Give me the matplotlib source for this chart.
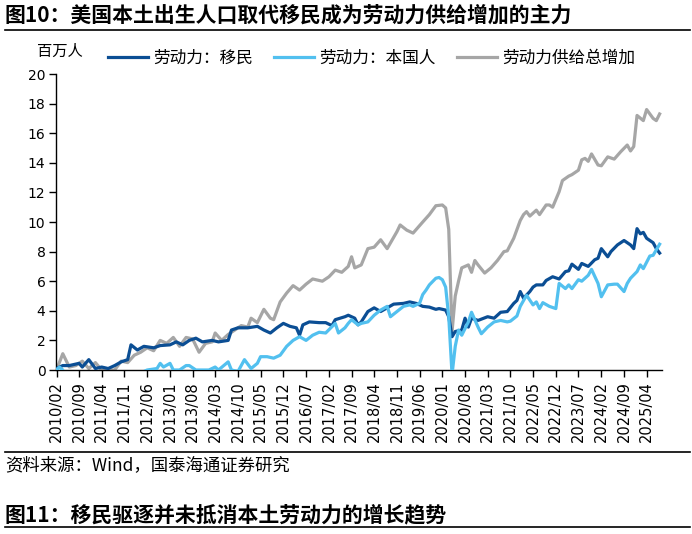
import matplotlib.pyplot as plt
import pandas as pd
from matplotlib.lines import Line2D

plt.rcParams['font.family'] = ['Noto Sans CJK SC', 'DejaVu Sans']

# 劳动力：移民（百万人）
imm_dates = ['2010/02', '2010/04', '2010/06', '2010/09', '2010/10', '2010/12', '2011/02', '2011/04',
             '2011/06', '2011/08', '2011/10', '2011/12', '2012/01', '2012/03', '2012/05', '2012/08',
             '2012/10', '2013/01', '2013/03', '2013/05', '2013/07', '2013/09', '2013/11', '2014/02',
             '2014/04', '2014/07', '2014/08', '2014/10', '2015/01', '2015/04', '2015/06', '2015/08',
             '2015/10', '2015/12', '2016/02', '2016/04', '2016/05', '2016/06', '2016/08', '2016/11',
             '2017/01', '2017/03', '2017/04', '2017/07', '2017/08', '2017/10', '2017/11', '2017/12',
             '2018/02', '2018/04', '2018/06', '2018/08', '2018/10', '2019/01', '2019/03', '2019/05',
             '2019/07', '2019/09', '2019/11', '2019/12', '2020/02', '2020/03', '2020/04', '2020/05',
             '2020/07', '2020/08', '2020/09', '2020/10', '2020/12', '2021/03', '2021/05', '2021/07',
             '2021/09', '2021/11', '2021/12', '2022/01', '2022/02', '2022/04', '2022/05', '2022/06',
             '2022/08', '2022/09', '2022/11', '2023/01', '2023/03', '2023/04', '2023/05', '2023/07',
             '2023/08', '2023/10', '2023/12', '2024/01', '2024/02', '2024/04', '2024/05', '2024/07',
             '2024/09', '2024/11', '2024/12', '2025/01', '2025/02', '2025/03', '2025/04', '2025/06',
             '2025/07', '2025/08']
imm_vals = [0.1, 0.3, 0.3, 0.45, 0.2, 0.7, 0.1, 0.2,
            0.1, 0.3, 0.55, 0.7, 1.7, 1.35, 1.6, 1.5,
            1.65, 1.7, 1.9, 1.7, 2.0, 2.15, 1.9, 2.0,
            1.9, 2.0, 2.7, 2.85, 2.85, 2.95, 2.7, 2.5,
            2.85, 3.15, 2.95, 2.85, 2.35, 3.05, 3.25, 3.2,
            3.2, 3.0, 3.4, 3.6, 3.7, 3.5, 3.05, 3.25,
            3.95, 4.2, 3.95, 4.2, 4.45, 4.5, 4.6, 4.5,
            4.3, 4.25, 4.1, 4.15, 4.05, 3.6, 2.25, 2.6,
            2.7, 3.5, 2.9, 3.5, 3.35, 3.6, 3.5, 3.9,
            3.95, 4.5, 4.7, 5.3, 4.85, 5.3, 5.6, 5.75,
            5.75, 6.05, 6.3, 6.15, 6.65, 6.7, 7.15, 6.8,
            7.2, 7.0, 7.45, 7.55, 8.2, 7.65, 8.0, 8.45,
            8.75, 8.45, 8.2, 9.55, 9.2, 9.3, 8.9, 8.6,
            8.2, 7.9]

# 劳动力：本国人（百万人）
nat_dates = ['2010/02', '2010/03', '2010/04', '2010/05', '2010/08', '2010/10', '2011/02', '2011/06',
             '2011/10', '2012/02', '2012/05', '2012/06', '2012/09', '2012/10', '2012/11', '2013/01',
             '2013/02', '2013/04', '2013/06', '2013/07', '2013/09', '2013/11', '2014/01', '2014/03',
             '2014/04', '2014/07', '2014/08', '2014/10', '2014/12', '2015/02', '2015/04', '2015/05',
             '2015/07', '2015/09', '2015/11', '2016/01', '2016/03', '2016/05', '2016/07', '2016/09',
             '2016/11', '2017/01', '2017/04', '2017/05', '2017/07', '2017/08', '2017/09', '2017/11',
             '2017/12', '2018/02', '2018/04', '2018/06', '2018/08', '2018/09', '2018/11', '2019/01',
             '2019/03', '2019/04', '2019/06', '2019/07', '2019/08', '2019/09', '2019/11', '2019/12',
             '2020/01', '2020/02', '2020/03', '2020/04', '2020/05', '2020/06', '2020/07', '2020/09',
             '2020/10', '2020/12', '2021/01', '2021/03', '2021/05', '2021/07', '2021/09', '2021/10',
             '2021/12', '2022/01', '2022/03', '2022/05', '2022/06', '2022/07', '2022/08', '2022/10',
             '2022/12', '2023/01', '2023/03', '2023/04', '2023/05', '2023/07', '2023/08', '2023/10',
             '2023/11', '2024/01', '2024/02', '2024/04', '2024/06', '2024/07', '2024/09', '2024/10',
             '2024/11', '2025/01', '2025/02', '2025/03', '2025/05', '2025/06', '2025/08']
nat_vals = [0.0, 0.2, 0.0, -0.6, -0.9, -0.5, -1.0, -0.8,
            -0.5, -0.6, -0.1, 0.0, 0.1, 0.45, 0.2, 0.45,
            0.0, 0.0, 0.3, 0.3, 0.0, 0.0, 0.0, 0.2,
            0.0, 0.55, 0.0, -0.1, 0.7, 0.1, 0.45, 0.9,
            0.9, 0.8, 1.0, 1.6, 2.0, 2.25, 2.0, 2.35,
            2.55, 2.5, 3.15, 2.5, 2.85, 3.15, 3.4, 3.05,
            3.15, 3.25, 3.7, 4.05, 4.3, 3.6, 3.95, 4.3,
            4.4, 4.3, 4.5, 5.1, 5.4, 5.75, 6.2, 6.25,
            6.1, 5.6, 3.6, -0.3, 1.6, 2.7, 2.35, 3.25,
            3.9, 2.9, 2.45, 2.9, 3.25, 3.35, 3.25, 3.3,
            3.65, 4.3, 5.05, 4.4, 4.6, 4.15, 4.55, 4.3,
            4.15, 5.85, 5.5, 5.75, 5.5, 6.1, 6.0, 6.4,
            6.8, 5.85, 4.95, 5.75, 5.8, 5.8, 5.3, 5.85,
            6.2, 6.65, 7.1, 6.85, 7.7, 7.75, 8.5]

# 劳动力供给总增加（百万人）
tot_dates = ['2010/02', '2010/04', '2010/06', '2010/08', '2010/10', '2010/12', '2011/02', '2011/04',
             '2011/06', '2011/08', '2011/10', '2011/12', '2012/02', '2012/04', '2012/06', '2012/08',
             '2012/10', '2012/12', '2013/02', '2013/04', '2013/06', '2013/08', '2013/10', '2013/12',
             '2014/02', '2014/03', '2014/05', '2014/07', '2014/09', '2014/11', '2015/01', '2015/02',
             '2015/04', '2015/06', '2015/08', '2015/09', '2015/11', '2016/01', '2016/03', '2016/05',
             '2016/07', '2016/09', '2016/12', '2017/02', '2017/04', '2017/06', '2017/08', '2017/09',
             '2017/10', '2017/12', '2018/02', '2018/04', '2018/06', '2018/08', '2018/11', '2018/12',
             '2019/02', '2019/04', '2019/07', '2019/09', '2019/11', '2020/01', '2020/02', '2020/03',
             '2020/04', '2020/05', '2020/06', '2020/07', '2020/09', '2020/10', '2020/11', '2020/12',
             '2021/02', '2021/04', '2021/06', '2021/08', '2021/09', '2021/11', '2022/01', '2022/02',
             '2022/03', '2022/04', '2022/06', '2022/07', '2022/09', '2022/10', '2022/11', '2023/01',
             '2023/02', '2023/04', '2023/05', '2023/07', '2023/08', '2023/09', '2023/10', '2023/11',
             '2024/01', '2024/02', '2024/04', '2024/06', '2024/08', '2024/10', '2024/11', '2024/12',
             '2025/01', '2025/03', '2025/04', '2025/06', '2025/07', '2025/08']
tot_vals = [0.0, 1.1, 0.2, 0.3, 0.6, 0.1, 0.5, 0.0,
            0.0, 0.0, 0.6, 0.5, 1.0, 1.2, 1.5, 1.3,
            2.0, 1.8, 2.2, 1.6, 2.2, 2.1, 1.2, 1.8,
            1.9, 2.5, 2.0, 2.4, 2.7, 3.0, 2.9, 3.5,
            3.2, 4.1, 3.5, 3.4, 4.6, 5.2, 5.7, 5.4,
            5.8, 6.15, 6.0, 6.3, 6.75, 6.6, 7.0, 7.65,
            6.9, 7.1, 8.2, 8.3, 8.8, 8.2, 9.35, 9.8,
            9.45, 9.25, 10.0, 10.5, 11.1, 11.15, 10.95, 9.5,
            2.6, 5.0, 6.0, 6.9, 7.1, 6.6, 7.4, 7.1,
            6.55, 6.9, 7.4, 8.0, 8.05, 8.9, 10.1, 10.5,
            10.7, 10.4, 10.8, 10.5, 11.15, 11.15, 11.0, 12.05,
            12.8, 13.1, 13.2, 13.5, 14.2, 14.3, 14.1, 14.6,
            13.85, 13.8, 14.4, 14.25, 14.75, 15.2, 14.8, 15.1,
            17.2, 16.85, 17.6, 17.0, 16.85, 17.3]

tick_labels = ['2010/02', '2010/09', '2011/04', '2011/11', '2012/06', '2013/01', '2013/08',
               '2014/03', '2014/10', '2015/05', '2015/12', '2016/07', '2017/02', '2017/09',
               '2018/04', '2018/11', '2019/06', '2020/01', '2020/08', '2021/03', '2021/10',
               '2022/05', '2022/12', '2023/07', '2024/02', '2024/09', '2025/04']

names = ['劳动力：移民', '劳动力：本国人', '劳动力供给总增加']
colors = ['#0B4E94', '#52C0EF', '#A6A6A6']


def to_dt(lst):
    return pd.to_datetime(lst, format='%Y/%m')


fig = plt.figure(figsize=(6.92, 5.34), dpi=100)
ax = fig.add_axes([56.5 / 692, 164 / 534, 606 / 692, 296 / 534])

l3, = ax.plot(to_dt(tot_dates), tot_vals, color=colors[2], lw=2.3, zorder=2)
l1, = ax.plot(to_dt(imm_dates), imm_vals, color=colors[0], lw=2.3, zorder=3)
l2, = ax.plot(to_dt(nat_dates), nat_vals, color=colors[1], lw=2.3, zorder=4)

ax.set_ylim(0, 20)
ax.set_yticks(range(0, 21, 2))
ax.set_xlim(pd.Timestamp('2010-02-01'), pd.Timestamp('2025-08-28'))
ax.set_xticks(to_dt(tick_labels))
ax.set_xticklabels(tick_labels, rotation=90, fontsize=10.5, family='DejaVu Sans')
for t in ax.get_yticklabels():
    t.set_fontsize(10)
    t.set_family('DejaVu Sans')
ax.tick_params(axis='both', length=5, width=1, color='black', pad=3)
for s in ['top', 'right']:
    ax.spines[s].set_visible(False)
for s in ['left', 'bottom']:
    ax.spines[s].set_linewidth(1)
    ax.spines[s].set_color('black')

fig.legend([l1, l2, l3], names, loc='center left', ncol=3, frameon=False,
           bbox_to_anchor=(108 / 692, 1 - 58 / 534), bbox_transform=fig.transFigure,
           fontsize=12, handlelength=2.4, handletextpad=0.3, columnspacing=1.3,
           borderpad=0, borderaxespad=0)

fig.text(60 / 692, 1 - 51 / 534, '百万人', fontsize=11, ha='center', va='center')

# 标题与分隔线
fig.text(5 / 692, 1 - 15 / 534, '图10：美国本土出生人口取代移民成为劳动力供给增加的主力',
         fontsize=15, fontweight='bold', ha='left', va='center')
fig.add_artist(Line2D([5 / 692, 690 / 692], [1 - 30 / 534] * 2, color='black', lw=1.2,
                      transform=fig.transFigure))
fig.add_artist(Line2D([5 / 692, 690 / 692], [1 - 452 / 534] * 2, color='black', lw=1.2,
                      transform=fig.transFigure))
fig.text(5 / 692, 1 - 465 / 534, '资料来源：Wind，国泰海通证券研究', fontsize=12.5,
         ha='left', va='center')
fig.text(5 / 692, 1 - 515 / 534, '图11：移民驱逐并未抵消本土劳动力的增长趋势',
         fontsize=15, fontweight='bold', ha='left', va='center')
fig.add_artist(Line2D([5 / 692, 690 / 692], [1 - 527 / 534] * 2, color='black', lw=1.2,
                      transform=fig.transFigure))

fig.savefig('out.png', dpi=100)
